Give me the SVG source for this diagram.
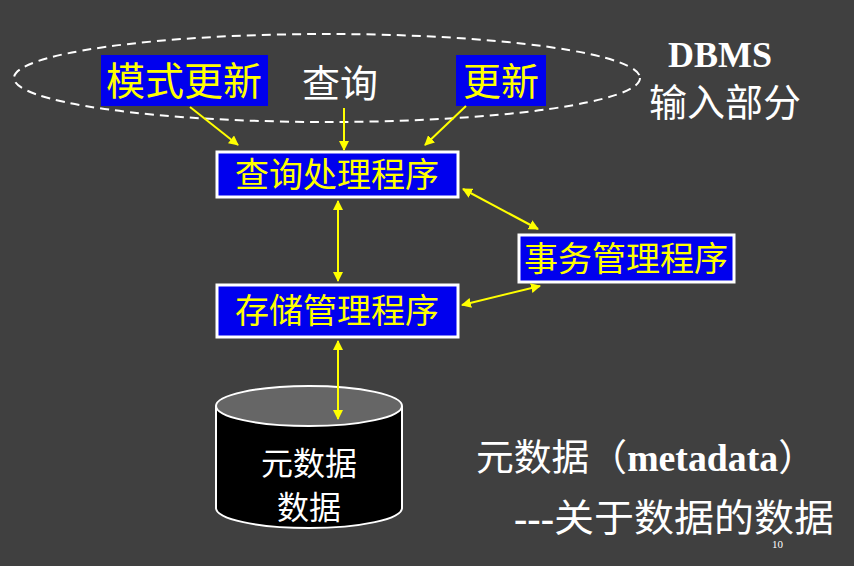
<svg xmlns="http://www.w3.org/2000/svg" width="854" height="566" viewBox="0 0 854 566">
<style>
.cj{font-family:"Liberation Serif","Noto Sans CJK SC",serif}
.y{fill:#ffff00}
.w{fill:#ffffff}
.blue{fill:#0000ee}
.bx{fill:#0000ee;stroke:#ffffff;stroke-width:3}
.ar{stroke:#ffff00;stroke-width:2;fill:none}
</style>
<defs>
<marker id="ah" viewBox="0 0 10 10" refX="9" refY="5" markerWidth="5" markerHeight="5" orient="auto-start-reverse"><path d="M0,0 L10,5 L0,10 z" fill="#ffff00"/></marker>
</defs>
<rect width="854" height="566" fill="#404040"/>
<ellipse cx="327" cy="78" rx="313" ry="44" fill="none" stroke="#ffffff" stroke-width="2" stroke-dasharray="9,6"/>
<g id="n-schema"><rect x="101" y="55" width="167" height="51" class="blue"/><text x="184" y="95" class="cj y" font-size="39" text-anchor="middle">模式更新</text></g>
<g id="n-query"><text x="340" y="97" class="cj w" font-size="38" text-anchor="middle">查询</text></g>
<g id="n-update"><rect x="456" y="55" width="90" height="51" class="blue"/><text x="501" y="95" class="cj y" font-size="38" text-anchor="middle">更新</text></g>
<g id="n-dbms"><text x="720" y="67" class="cj w" font-size="36" font-weight="bold" text-anchor="middle">DBMS</text><text x="725" y="116" class="cj w" font-size="38" text-anchor="middle">输入部分</text></g>
<g id="n-qp"><rect x="217" y="152" width="241" height="45" class="bx"/><text x="337" y="187" class="cj y" font-size="34" text-anchor="middle">查询处理程序</text></g>
<g id="n-tm"><rect x="519" y="235" width="215" height="47" class="bx"/><text x="626" y="271" class="cj y" font-size="34" text-anchor="middle">事务管理程序</text></g>
<g id="n-sm"><rect x="217" y="285" width="241" height="52" class="bx"/><text x="337" y="323" class="cj y" font-size="34" text-anchor="middle">存储管理程序</text></g>
<g id="n-db">
<path d="M216,406 L216,508 A93,20 0 0 0 402,508 L402,406" fill="#000" stroke="#fff" stroke-width="2"/>
<ellipse cx="309" cy="406" rx="93" ry="20" fill="#666666" stroke="#fff" stroke-width="2"/>
<text x="309" y="475" class="cj w" font-size="32" text-anchor="middle">元数据</text>
<text x="309" y="519" class="cj w" font-size="32" text-anchor="middle">数据</text>
</g>
<g id="n-meta">
<text x="476" y="471" class="cj w" font-size="37" textLength="340" lengthAdjust="spacingAndGlyphs">元数据（<tspan font-weight="bold">metadata</tspan>）</text>
<text x="514" y="531" class="cj w" font-size="38" textLength="320" lengthAdjust="spacingAndGlyphs"><tspan font-weight="bold">---</tspan>关于数据的数据</text>
<text x="772" y="548" class="cj w" font-size="11">10</text>
</g>
<g id="connectors">
<line x1="190" y1="107" x2="238" y2="145" class="ar" marker-end="url(#ah)"/>
<line x1="344" y1="108" x2="344" y2="150" class="ar" marker-end="url(#ah)"/>
<line x1="466" y1="106" x2="425" y2="145" class="ar" marker-end="url(#ah)"/>
<line x1="338" y1="201" x2="338" y2="281" class="ar" marker-start="url(#ah)" marker-end="url(#ah)"/>
<line x1="463" y1="189" x2="538" y2="229" class="ar" marker-start="url(#ah)" marker-end="url(#ah)"/>
<line x1="462" y1="305" x2="540" y2="286" class="ar" marker-start="url(#ah)" marker-end="url(#ah)"/>
<line x1="338" y1="341" x2="338" y2="419" class="ar" marker-start="url(#ah)" marker-end="url(#ah)"/>
</g>
</svg>
